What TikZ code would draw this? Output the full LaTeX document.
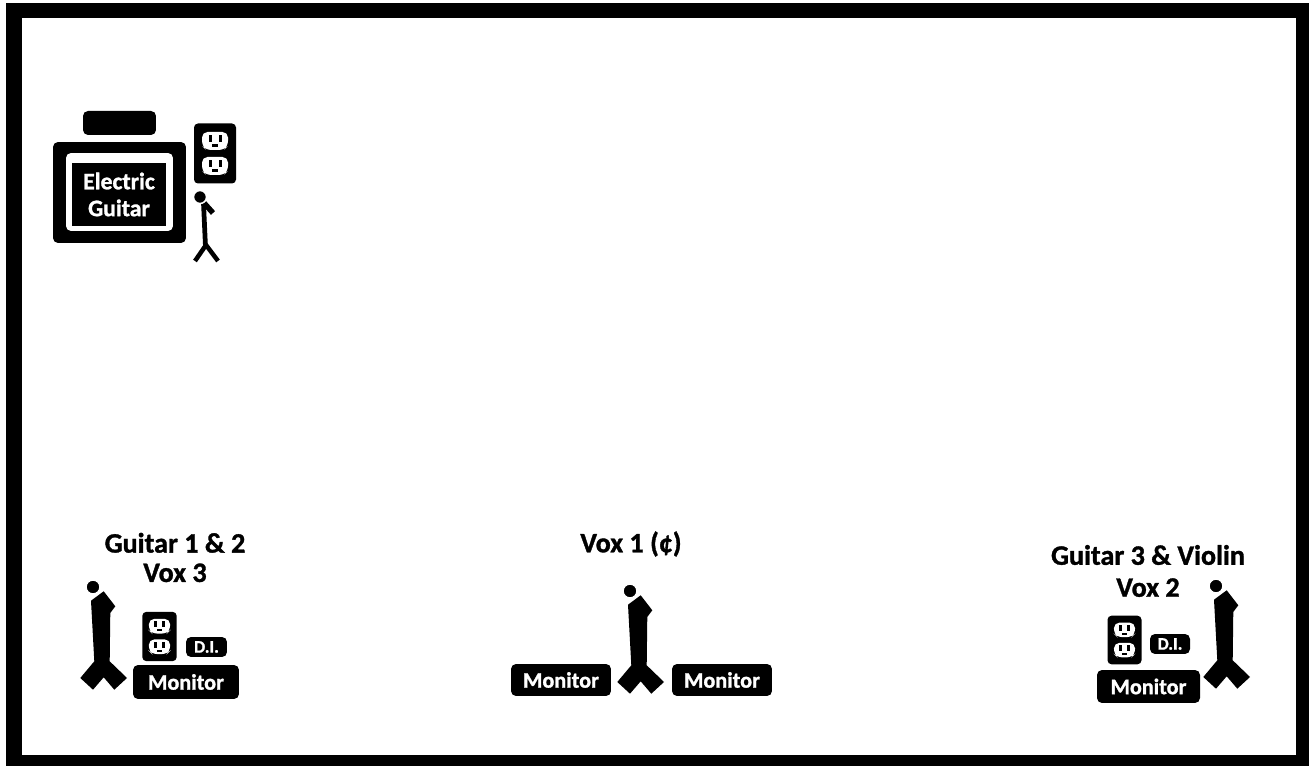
\documentclass[tikz,border=0pt]{standalone}
\usepackage{fontspec}
\setmainfont[BoldFeatures={FakeBold=1.2}]{Carlito}
\tikzset{
	x=0.02cm, y=-0.02cm,
	blackbox/.style={shape=rectangle, fill=black, text=white, rounded corners=0.1cm, inner sep=0pt, font=\fontsize{12.6}{12.6}\selectfont\bfseries},
	bandlabel/.style={font=\fontsize{16}{16}\selectfont\bfseries, inner sep=0pt},
	pics/outlet/.style={code={
		\fill[rounded corners=0.08cm] (-21,-30) rectangle (21,30);
		\foreach \y in {-12.5,12.5}{
			\fill[white, rounded corners=0.11cm] (-13,\y-9) -- (13,\y-9) -- (13,\y+5) -- (9,\y+9) -- (-9,\y+9) -- (-13,\y+5) -- cycle;
			\fill (-6.5,\y-6) rectangle (-3.5,\y+1);
			\fill (3.5,\y-6) rectangle (6.5,\y+1);
			\fill (-3,\y+3.5) rectangle (3,\y+6);
		}
	}},
	pics/bigstand/.style={code={
		\fill (10.7,4.3) -- (22.3,19.3) -- (17.3,26) -- (16.7,74.3) -- (34,91) -- (21.3,102.7) -- (10.7,90.3) -- (0,102.7) -- (-12.7,91) -- (1.3,74.3) -- (-2,13.7) -- cycle;
		\filldraw[draw=white, line width=0.05cm] (0,0) circle (7.5);
	}},
}
\begin{document}
\begin{tikzpicture}
	% Frame:
	\useasboundingbox (0, 0) rectangle (1309, 766);
	\fill (6, 3) rectangle (1309, 766);
	\fill[white] (22, 18) rectangle (1296, 755);
	% Amp:
	\node[blackbox, minimum width=1.46cm, minimum height=0.48cm](AmpTop) at (119.5, 123){};
	\node[blackbox, minimum width=2.66cm, minimum height=2.02cm](Amp) at (119.5, 192.5){};
	\node[blackbox, fill=white, minimum width=2.14cm, minimum height=1.56cm](AmpRim) at (119.5, 192){};
	\node[blackbox, rounded corners=0pt, minimum width=1.88cm, minimum height=1.28cm, align=center, font=\fontsize{13.5}{13.5}\selectfont\bfseries](AmpText) at (119, 194.5){Electric\\[1.8pt]Guitar};
	\pic at (215, 153.5) {outlet};
	% Guitar stand:
	\draw[line width=0.095cm] (203.5, 203) -- (205.5, 247);
	\draw[line width=0.11cm] (204, 203) -- (213, 213);
	\draw[line width=0.09cm] (195, 261) -- (206, 245) -- (218, 261);
	\filldraw[draw=white, line width=0.03cm] (200, 197) circle (6.5);
	% Left:
	\node[bandlabel, align=center](LeftText) at (175, 557.5){Guitar 1 \& 2\\[0.7pt]Vox 3};
	\pic at (93, 587) {bigstand};
	\pic[scale=0.82] at (159.5, 636.5) {outlet};
	\node[blackbox, minimum width=0.82cm, minimum height=0.4cm, font=\fontsize{10}{10}\selectfont\bfseries](LeftDI) at (206.5, 647){D.I.};
	\node[blackbox, minimum width=2.12cm, minimum height=0.68cm](LeftMon) at (186, 682){Monitor};
	% Center:
	\node[bandlabel](CenterText) at (631, 544){Vox 1 (¢)};
	\pic at (630, 591) {bigstand};
	\node[blackbox, minimum width=2cm, minimum height=0.64cm](CenterMonL) at (561, 680){Monitor};
	\node[blackbox, minimum width=2cm, minimum height=0.64cm](CenterMonR) at (722, 680){Monitor};
	% Right:
	\node[bandlabel, align=center](RightText) at (1148, 571){Guitar 3 \& Violin\\[2.2pt]Vox 2};
	\pic at (1216, 586) {bigstand};
	\pic[scale=0.81] at (1124.5, 640) {outlet};
	\node[blackbox, minimum width=0.8cm, minimum height=0.4cm, font=\fontsize{10}{10}\selectfont\bfseries](RightDI) at (1170, 644){D.I.};
	\node[blackbox, minimum width=2.06cm, minimum height=0.66cm](RightMon) at (1148.5, 686.5){Monitor};
\end{tikzpicture}
\end{document}
